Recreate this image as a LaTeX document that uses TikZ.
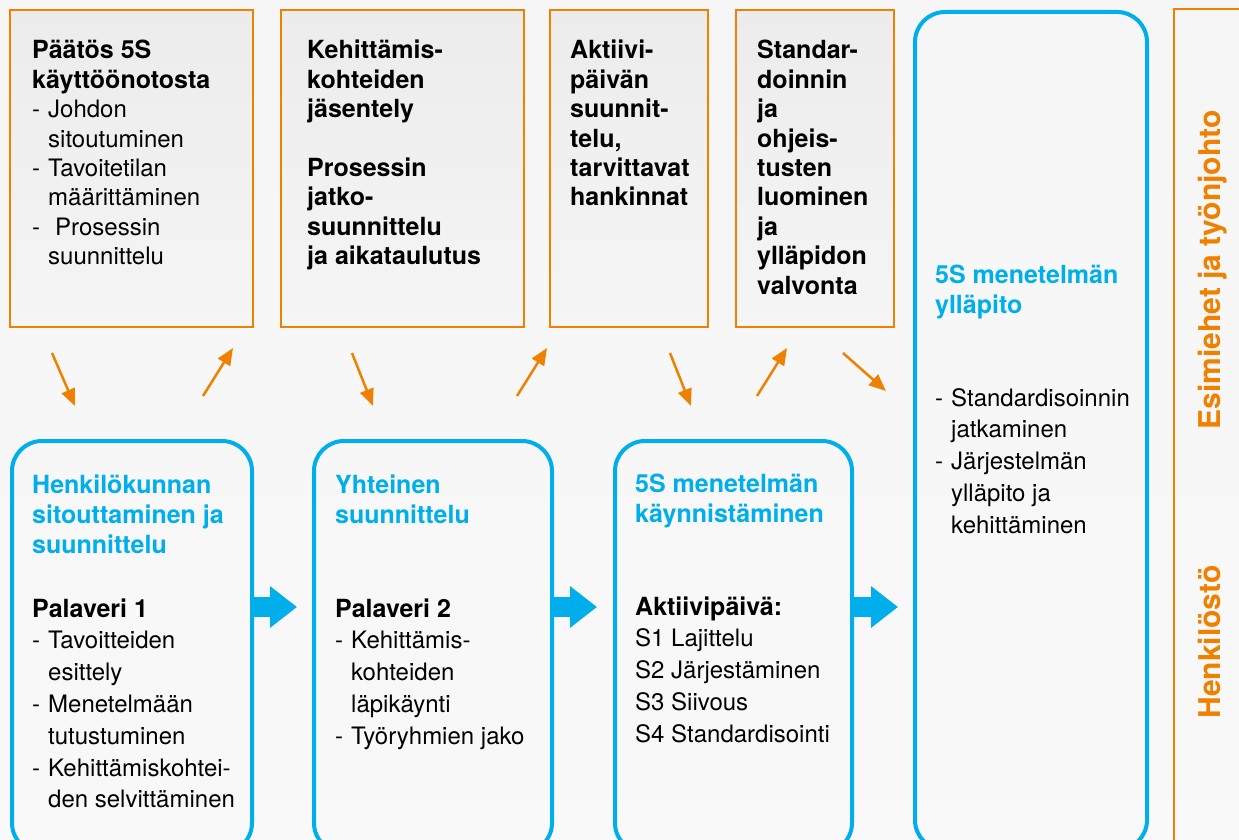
\documentclass[tikz,border=0pt]{standalone}
\usepackage{fontspec}
\setmainfont{TeX Gyre Heros}
\usetikzlibrary{arrows.meta}
\definecolor{orng}{RGB}{240,128,0}
\definecolor{cyanb}{RGB}{0,174,236}
\definecolor{bgtop}{RGB}{224,224,224}
\definecolor{boxtop}{RGB}{236,236,236}
\definecolor{boxbot}{RGB}{245,245,245}
\pgfdeclareverticalshading{bgshade}{1239pt}{color(0pt)=(white); color(280pt)=(white); color(840pt)=(bgtop)}
\newcommand{\lns}[1]{\begin{tabular}[t]{@{}l@{}}#1\end{tabular}}
\newcommand{\myb}[1]{{\fontsize{25}{29.4}\selectfont\bfseries #1}}
\newcommand{\dsh}{-\hspace*{8pt}}
\newcommand{\ind}{\hspace*{16pt}}
\begin{document}
\begin{tikzpicture}[x=1pt,y=-1pt,
  obox/.style={draw=orng, line width=2pt, top color=boxtop, bottom color=boxbot, anchor=north west, inner sep=0pt},
  bbox/.style={draw=cyanb, line width=4pt, rounded corners=30pt, anchor=north west, inner sep=0pt},
  tA/.style={anchor=base west, inner sep=0pt, text=black, font=\fontsize{24}{29.4}\selectfont},
  tB/.style={anchor=base west, inner sep=0pt, text=black, font=\fontsize{24}{31.8}\selectfont},
  hd/.style={anchor=base west, inner sep=0pt, text=cyanb, font=\fontsize{25}{30}\selectfont\bfseries},
  rot/.style={rotate=90, anchor=base, inner sep=0pt, text=orng, font=\fontsize{30}{36}\selectfont\bfseries},
  oarrow/.style={draw=orng, line width=2.5pt, -{Triangle[length=17pt,width=14pt]}},
  barrow/.style={draw=cyanb, line width=20pt, -{Triangle[length=27pt,width=40pt]}}
]
\useasboundingbox (0,0) rectangle (1239,840);
\clip (0,0) rectangle (1239,840);
\shade[shading=bgshade] (0,0) rectangle (1239,840);

% orange top boxes
\node[obox, minimum width=243pt, minimum height=317pt] (o1) at (9,9) {};
\node[obox, minimum width=243pt, minimum height=317pt] (o2) at (280,9) {};
\node[obox, minimum width=158pt, minimum height=317pt] (o3) at (549,9) {};
\node[obox, minimum width=158pt, minimum height=317pt] (o4) at (735,9) {};

\node[tA] (t1) at (32,59) {\lns{\myb{Päätös 5S}\\ \myb{käyttöönotosta}\\ \dsh Johdon\\ \ind sitoutuminen\\ \dsh Tavoitetilan\\ \ind määrittäminen\\ -\hspace*{15pt}Prosessin\\ \ind suunnittelu}};
\node[tA] (t2) at (307,59) {\lns{\myb{Kehittämis-}\\ \myb{kohteiden}\\ \myb{jäsentely}\\ \\ \myb{Prosessin}\\ \myb{jatko-}\\ \myb{suunnittelu}\\ \myb{ja aikataulutus}}};
\node[tA] (t3) at (570,59) {\lns{\myb{Aktiivi-}\\ \myb{päivän}\\ \myb{suunnit-}\\ \myb{telu,}\\ \myb{tarvittavat}\\ \myb{hankinnat}}};
\node[tA] (t4) at (757,59) {\lns{\myb{Standar-}\\ \myb{doinnin}\\ \myb{ja}\\ \myb{ohjeis-}\\ \myb{tusten}\\ \myb{luominen}\\ \myb{ja}\\ \myb{ylläpidon}\\ \myb{valvonta}}};

% blue boxes
\node[bbox, minimum width=240pt, minimum height=412pt] (bA) at (10,439) {};
\node[bbox, minimum width=238pt, minimum height=412pt] (bB) at (312,439) {};
\node[bbox, minimum width=237pt, minimum height=412pt] (bC) at (613,439) {};
\node[bbox, minimum width=232pt, minimum height=838pt] (bD) at (913,10) {};

\node[hd] (hA) at (32,493) {\lns{Henkilökunnan\\ sitouttaminen ja\\ suunnittelu}};
\node[tB] (pA) at (32,617) {\lns{\myb{Palaveri 1}\\ \dsh Tavoitteiden\\ \ind esittely\\ \dsh Menetelmään\\ \ind tutustuminen\\ \dsh Kehittämiskohtei-\\ \ind den selvittäminen}};

\node[hd] (hB) at (335,493) {\lns{Yhteinen\\ suunnittelu}};
\node[tB] (pB) at (335,617) {\lns{\myb{Palaveri 2}\\ \dsh Kehittämis-\\ \ind kohteiden\\ \ind läpikäynti\\ \dsh Työryhmien jako}};

\node[hd] (hC) at (635,492) {\lns{5S menetelmän\\ käynnistäminen}};
\node[tB] (pC) at (635,615) {\lns{\myb{Aktiivipäivä:}\\ S1 Lajittelu\\ S2 Järjestäminen\\ S3 Siivous\\ S4 Standardisointi}};

\node[hd] (hD) at (935,283) {\lns{5S menetelmän\\ ylläpito}};
\node[tB] (pD) at (935,406) {\lns{\dsh Standardisoinnin\\ \ind jatkaminen\\ \dsh Järjestelmän\\ \ind ylläpito ja\\ \ind kehittäminen}};

% right frame
\node[draw=orng, line width=2pt, anchor=north west, inner sep=0pt, minimum width=120pt, minimum height=900pt] (side) at (1173,8) {};
\node[rot] (s1) at (1220,270) {Esimiehet ja työnjohto};
\node[rot] (s2) at (1220,642) {Henkilöstö};

% block arrows
\coordinate (ya) at (0,607);
\draw[barrow] (bA.east |- ya) -- ([xshift=-15pt]bB.west |- ya);
\draw[barrow] (bB.east |- ya) -- ([xshift=-16pt]bC.west |- ya);
\draw[barrow] (bC.east |- ya) -- ([xshift=-15pt]bD.west |- ya);

% orange arrows
\coordinate (a1s) at (52,353);  \coordinate (a1e) at (75,406);
\coordinate (a2s) at (203,396); \coordinate (a2e) at (233,348);
\coordinate (a3s) at (352,353); \coordinate (a3e) at (373,406);
\coordinate (a4s) at (517,396); \coordinate (a4e) at (547,348);
\coordinate (a5s) at (670,353); \coordinate (a5e) at (691,406);
\coordinate (a6s) at (757,396); \coordinate (a6e) at (787,348);
\coordinate (a7s) at (843,353); \coordinate (a7e) at (886,391);
\draw[oarrow] (a1s) -- (a1e);
\draw[oarrow] (a2s) -- (a2e);
\draw[oarrow] (a3s) -- (a3e);
\draw[oarrow] (a4s) -- (a4e);
\draw[oarrow] (a5s) -- (a5e);
\draw[oarrow] (a6s) -- (a6e);
\draw[oarrow] (a7s) -- (a7e);
\end{tikzpicture}
\end{document}
